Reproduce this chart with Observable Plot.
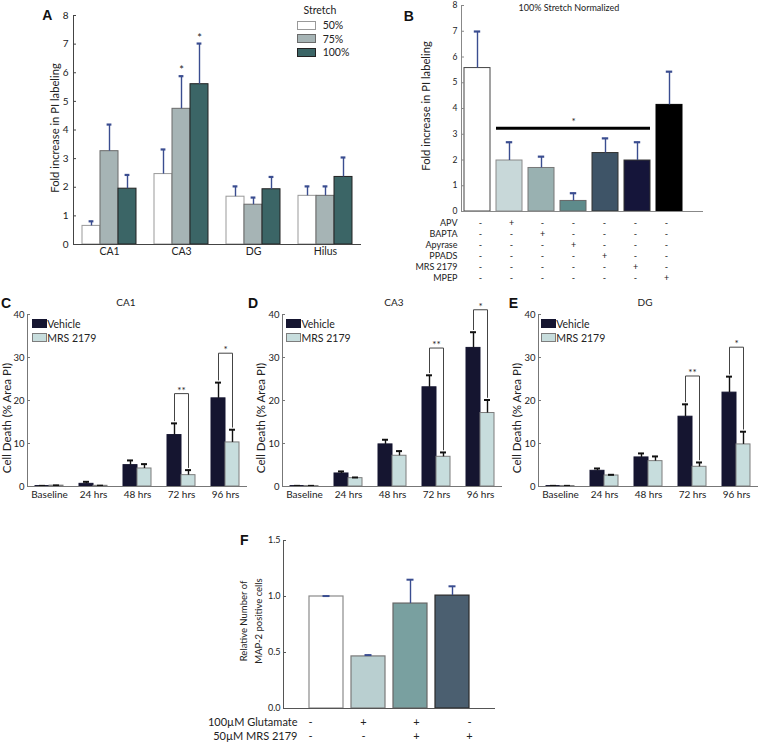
<!DOCTYPE html>
<html><head><meta charset="utf-8">
<script src="https://cdn.jsdelivr.net/npm/d3@7"></script>
<script src="https://cdn.jsdelivr.net/npm/@observablehq/plot@0.6"></script>
<style>
body{margin:0;background:#fff;}
#fig{position:relative;width:760px;height:743px;background:#fff;font-family:Lato,"Open Sans",sans-serif;color:#222;overflow:hidden}
.abs{position:absolute;white-space:nowrap;line-height:1.15}
</style></head><body><div id="fig"></div>
<script>
// ---------- Panel A data ----------
const regionsA = ["CA1", "CA3", "DG", "Hilus"];
const stretchA = ["50%", "75%", "100%"];
const meanA50 = [0.65, 2.46, 1.67, 1.70];
const semA50 = [0.16, 0.86, 0.36, 0.33];
const meanA75 = [3.26, 4.74, 1.39, 1.70];
const semA75 = [0.93, 1.14, 0.25, 0.33];
const meanA100 = [1.95, 5.60, 1.93, 2.36];
const semA100 = [0.48, 1.42, 0.43, 0.68];
const starsA = [["CA3", "75%"], ["CA3", "100%"]];
const ticksA = [0, 1, 2, 3, 4, 5, 6, 7, 8];

// ---------- Panel B data ----------
const conditionsB = ["Control", "APV", "BAPTA", "Apyrase", "PPADS", "MRS 2179", "MPEP"];
const meanB = [5.57, 1.98, 1.69, 0.41, 2.27, 1.98, 4.14];
const semB = [1.42, 0.71, 0.44, 0.30, 0.57, 0.71, 1.29];
const drugRowsB = ["APV", "BAPTA", "Apyrase", "PPADS", "MRS 2179", "MPEP"];
const sigSpanB = ["APV", "MRS 2179"];
const sigLevelB = 3.23;
const sigCenterB = "Apyrase";

// ---------- Panels C-E data ----------
const timepoints = ["Baseline", "24 hrs", "48 hrs", "72 hrs", "96 hrs"];
const treatments = ["Vehicle", "MRS 2179"];
const bracketTimes = ["72 hrs", "96 hrs"];
const bracketLabels = ["**", "*"];
const ticksCE = [0, 10, 20, 30, 40];

const vehMeanCA1 = [0.10, 0.62, 4.97, 11.96, 20.50];
const vehSemCA1 = [0.05, 0.47, 1.09, 2.72, 3.66];
const mrsMeanCA1 = [0.20, 0.16, 4.19, 2.64, 10.25];
const mrsSemCA1 = [0.05, 0.03, 1.01, 1.17, 2.95];
const bracketTopCA1 = [21.6, 31.0];

const vehMeanCA3 = [0.10, 3.03, 9.79, 23.07, 32.23];
const vehSemCA3 = [0.05, 0.47, 1.08, 2.79, 3.65];
const mrsMeanCA3 = [0.10, 1.94, 7.15, 6.91, 17.09];
const mrsSemCA3 = [0.05, 0.16, 1.08, 1.01, 3.03];
const bracketTopCA3 = [32.2, 41.1];

const vehMeanDG = [0.10, 3.65, 6.76, 16.23, 21.83];
const vehSemDG = [0.05, 0.54, 0.93, 2.88, 3.72];
const mrsMeanDG = [0.10, 2.56, 5.90, 4.58, 9.79];
const mrsSemDG = [0.05, 0.16, 1.09, 1.01, 2.95];
const bracketTopDG = [25.7, 32.4];

// ---------- Panel F data ----------
const conditionsF = ["Control", "Glutamate", "Glutamate + MRS 2179", "MRS 2179"];
const meanF = [1.000, 0.465, 0.937, 1.008];
const semF = [0.004, 0.012, 0.213, 0.083];
const rowLabelsF = ["100\u00b5M Glutamate", "50\u00b5M MRS 2179"];
const glutamateSignsF = ["-", "+", "+", "-"];
const mrsSignsF = ["-", "-", "+", "+"];
const ticksF = [0, 0.5, 1, 1.5];

// ---------- helpers ----------
const FONT = "Lato, 'Open Sans', sans-serif";
const ERR_BLUE = "#3a4d90";
const fig = document.getElementById("fig");
function placePlot(svg, left, top, width) {
  const d = document.createElement("div");
  d.className = "abs";
  d.style.left = left + "px"; d.style.top = top + "px"; d.style.width = width + "px";
  d.appendChild(svg);
  fig.appendChild(d);
}
function txt(content, x, y, o = {}) {
  const d = document.createElement("div");
  d.className = "abs";
  d.style.left = x + "px"; d.style.top = y + "px";
  d.style.fontSize = (o.size || 10) + "px";
  d.style.fontFamily = o.family || FONT;
  if (o.weight) d.style.fontWeight = o.weight;
  d.style.color = o.color || "#222";
  if (o.lh) d.style.lineHeight = o.lh;
  d.style.textAlign = "center";
  const tx = o.anchor === "start" ? "0" : o.anchor === "end" ? "-100%" : "-50%";
  d.style.transform = `translate(${tx},-50%)` + (o.rotate ? ` rotate(${o.rotate}deg)` : "");
  d.innerHTML = content;
  fig.appendChild(d);
}
function box(x, y, w, h, fill, stroke) {
  const d = document.createElement("div");
  d.className = "abs";
  Object.assign(d.style, {left: x + "px", top: y + "px", width: w + "px", height: h + "px",
    background: fill, border: `1px solid ${stroke}`, boxSizing: "border-box"});
  fig.appendChild(d);
}
const baseStyle = {background: "transparent", overflow: "visible", fontFamily: FONT, fontSize: "10px", color: "#222"};

// ---------- Panel A ----------
const meansA = [meanA50, meanA75, meanA100], semsA = [semA50, semA75, semA100];
const dataA = stretchA.flatMap((s, j) => regionsA.map((r, i) => ({region: r, stretch: s, mean: meansA[j][i], top: meansA[j][i] + semsA[j][i]})));
const fillA = {"50%": "#ffffff", "75%": "#a6b4b5", "100%": "#3b6566"};
const strokeA = {"50%": "#999999", "75%": "#6a6a6a", "100%": "#222222"};
const plotA = Plot.plot({
  width: 380, height: 262, marginLeft: 71, marginRight: 18, marginTop: 15, marginBottom: 18,
  style: baseStyle,
  fx: {domain: regionsA, padding: 0, axis: null},
  x: {domain: stretchA, paddingInner: 0, paddingOuter: 0.5, axis: null},
  y: {domain: [0, 8], axis: null},
  marks: [
    ...stretchA.map(s => Plot.barY(dataA.filter(d => d.stretch === s), {fx: "region", x: "stretch", y: "mean", fill: fillA[s], stroke: strokeA[s], strokeWidth: 1})),
    Plot.ruleX(dataA, {fx: "region", x: "stretch", y1: "mean", y2: "top", stroke: ERR_BLUE, strokeWidth: 1.4}),
    Plot.tickY(dataA, {fx: "region", x: "stretch", y: "top", stroke: ERR_BLUE, strokeWidth: 2.2, insetLeft: 6.6, insetRight: 6.6}),
    Plot.text(dataA.filter(d => starsA.some(([r, s]) => r === d.region && s === d.stretch)), {fx: "region", x: "stretch", y: "top", text: () => "*", lineAnchor: "bottom", dy: -2, fontSize: 11}),
    Plot.ruleY([0], {stroke: "#444"}),
    Plot.frame({anchor: "left", facetAnchor: "left", stroke: "#444"}),
    Plot.axisY({ticks: ticksA, tickSize: -3, tickPadding: 8, stroke: "#444", fontSize: 10, label: null}),
    Plot.axisFx({anchor: "bottom", tickSize: 0, tickPadding: 3, label: null, fontSize: 10.5})
  ]
});
placePlot(plotA, 0, 0, 380);
txt("A", 47.3, 15.3, {size: 14, weight: "bold", family: "'Liberation Sans', Arial, sans-serif", color: "#111"});
txt("Fold increase in PI labeling", 55.3, 127.5, {size: 11.2, rotate: -90});
txt("Stretch", 320, 10, {size: 10.5});
stretchA.forEach((s, i) => {
  const y = [20.7, 34.3, 47.7][i];
  box(296.7, y, 19.3, 9, fillA[s], strokeA[s]);
  txt(s, 322.7, y + 4.5, {size: 10.5, anchor: "start"});
});

// ---------- Panel B ----------
const fillB = ["#ffffff", "#c8d8d9", "#99b1b1", "#5e8b8b", "#3e5467", "#15153a", "#000000"];
const strokeB = ["#444444", "#8a8a8a", "#777777", "#666666", "#333333", "#333333", "#000000"];
const dataB = conditionsB.map((c, i) => ({cond: c, mean: meanB[i], top: meanB[i] + semB[i]}));
const xB = {domain: conditionsB, range: [81, 304], paddingInner: 0.2, paddingOuter: 0, axis: null};
const plotB = Plot.plot({
  width: 380, height: 215, marginLeft: 81, marginRight: 57, marginTop: 5, marginBottom: 4,
  style: baseStyle,
  x: xB,
  y: {domain: [0, 8], axis: null},
  marks: [
    ...dataB.map((d, i) => Plot.barY([d], {x: "cond", y: "mean", fill: fillB[i], stroke: strokeB[i], strokeWidth: 1})),
    Plot.ruleX(dataB, {x: "cond", y1: "mean", y2: "top", stroke: ERR_BLUE, strokeWidth: 1.4}),
    Plot.tickY(dataB, {x: "cond", y: "top", stroke: ERR_BLUE, strokeWidth: 2.2, insetLeft: 9.8, insetRight: 9.8}),
    Plot.ruleY([sigLevelB], {x1: () => sigSpanB[0], x2: () => sigSpanB[1], stroke: "#000", strokeWidth: 3}),
    Plot.text([sigLevelB], {x: () => sigCenterB, y: d => d, text: () => "*", lineAnchor: "bottom", dy: -3, fontSize: 10}),
    Plot.ruleY([0], {stroke: "#888"}),
    Plot.frame({anchor: "left", stroke: "#888"}),
    Plot.axisY({ticks: ticksA, tickSize: -3, tickPadding: 7, stroke: "#888", fontSize: 8.5, label: null})
  ]
});
placePlot(plotB, 380, 0, 380);
const signDataB = drugRowsB.flatMap(drug => conditionsB.map(c => ({drug, cond: c, sign: c === drug ? "+" : "-"})));
const rowsB = Plot.plot({
  width: 380, height: 71, marginLeft: 81, marginRight: 57, marginTop: 0, marginBottom: 0,
  style: baseStyle,
  x: xB,
  y: {type: "band", domain: drugRowsB, padding: 0, axis: null},
  marks: [
    Plot.text(signDataB, {x: "cond", y: "drug", text: "sign", fontSize: 9, fill: "#222"}),
    Plot.axisY({tickSize: 0, tickPadding: 4, fontSize: 9, label: null})
  ]
});
placePlot(rowsB, 380, 214, 380);
txt("B", 408.7, 16.2, {size: 14, weight: "bold", family: "'Liberation Sans', Arial, sans-serif", color: "#111"});
txt("100% Stretch Normalized", 569, 7.5, {size: 9});
txt("Fold increase in PI labeling", 425.7, 106, {size: 11.2, rotate: -90});

// ---------- Panels C-E ----------
function deathPanel(vehMean, vehSem, mrsMean, mrsSem, bracketTop, width, marginLeft, marginRight) {
  const data = timepoints.flatMap((t, i) => [
    {time: t, trt: "Vehicle", mean: vehMean[i], top: vehMean[i] + vehSem[i]},
    {time: t, trt: "MRS 2179", mean: mrsMean[i], top: mrsMean[i] + mrsSem[i]}
  ]);
  const brackets = bracketTimes.map((t, k) => ({time: t, top: bracketTop[k], label: bracketLabels[k]}));
  const bracketPts = brackets.flatMap(b => {
    const v = data.find(d => d.time === b.time && d.trt === "Vehicle").top;
    const m = data.find(d => d.time === b.time && d.trt === "MRS 2179").top;
    return [
      {time: b.time, trt: "Vehicle", y: v + 0.6},
      {time: b.time, trt: "Vehicle", y: b.top},
      {time: b.time, trt: "MRS 2179", y: b.top},
      {time: b.time, trt: "MRS 2179", y: m + 0.6}
    ];
  });
  return Plot.plot({
    width, height: 205, marginLeft, marginRight, marginTop: 14, marginBottom: 19,
    style: baseStyle,
    fx: {domain: timepoints, padding: 0, axis: null},
    x: {domain: treatments, paddingInner: 0, paddingOuter: 0.49, axis: null},
    y: {domain: [0, 40], axis: null},
    marks: [
      Plot.barY(data.filter(d => d.trt === "Vehicle"), {fx: "time", x: "trt", y: "mean", fill: "#151530", stroke: "#151530", strokeWidth: 1}),
      Plot.barY(data.filter(d => d.trt === "MRS 2179"), {fx: "time", x: "trt", y: "mean", fill: "#c7dddd", stroke: "#7d7d7d", strokeWidth: 1}),
      Plot.ruleX(data, {fx: "time", x: "trt", y1: "mean", y2: "top", stroke: "#111", strokeWidth: 1.4}),
      Plot.tickY(data, {fx: "time", x: "trt", y: "top", stroke: "#111", strokeWidth: 2, insetLeft: 4, insetRight: 4}),
      Plot.line(bracketPts, {fx: "time", x: "trt", y: "y", z: "time", stroke: "#444", strokeWidth: 1}),
      Plot.text(brackets, {fx: "time", y: "top", text: "label", lineAnchor: "bottom", dy: 0, fontSize: 10}),
      Plot.ruleY([0], {stroke: "#777"}),
      Plot.frame({anchor: "left", facetAnchor: "left", stroke: "#777"}),
      Plot.axisY({ticks: ticksCE, tickSize: -3, tickPadding: 6, stroke: "#777", fontSize: 9.5, label: null}),
      Plot.axisFx({anchor: "bottom", tickSize: 0, tickPadding: 4, label: null, fontSize: 10})
    ]
  });
}
placePlot(deathPanel(vehMeanCA1, vehSemCA1, mrsMeanCA1, mrsSemCA1, bracketTopCA1, 250, 25, 2), 0, 300, 250);
placePlot(deathPanel(vehMeanCA3, vehSemCA3, mrsMeanCA3, mrsSemCA3, bracketTopCA3, 256, 31, 3), 250, 300, 256);
placePlot(deathPanel(vehMeanDG, vehSemDG, mrsMeanDG, mrsSemDG, bracketTopDG, 260, 38, 2), 500, 300, 260);

const panelsCE = [
  {letter: "C", lx: 6, title: "CA1", tx: 126, ylx: 7.2, box: 31.7},
  {letter: "D", lx: 253, title: "CA3", tx: 394, ylx: 261.3, box: 286},
  {letter: "E", lx: 513.3, title: "DG", tx: 645, ylx: 516.7, box: 540.7}
];
panelsCE.forEach(p => {
  txt(p.letter, p.lx, 302.5, {size: 14, weight: "bold", family: "'Liberation Sans', Arial, sans-serif", color: "#111"});
  txt(p.title, p.tx, 302.5, {size: 10});
  txt("Cell Death (% Area PI)", p.ylx, 418, {size: 11.5, rotate: -90});
  box(p.box, 319, 15, 9, "#151530", "#151530");
  box(p.box, 333, 15, 9, "#c7dddd", "#7d7d7d");
  txt(treatments[0], p.box + 15.5, 323.5, {size: 10.5, anchor: "start"});
  txt(treatments[1], p.box + 15.5, 337.5, {size: 10.5, anchor: "start"});
});

// ---------- Panel F ----------
const fillF = ["#ffffff", "#b9cfd0", "#79a0a0", "#4b5f70"];
const strokeF = ["#8a8a8a", "#7a7a7a", "#666666", "#2a2a2a"];
const dataF = conditionsF.map((c, i) => ({cond: c, mean: meanF[i], top: meanF[i] + semF[i]}));
const xF = {domain: conditionsF, range: [83, 295], paddingInner: 0.195, paddingOuter: 0.58, axis: null};
const plotF = Plot.plot({
  width: 300, height: 180, marginLeft: 83, marginRight: 5, marginTop: 10, marginBottom: 2,
  style: baseStyle,
  x: xF,
  y: {domain: [0, 1.5], axis: null},
  marks: [
    ...dataF.map((d, i) => Plot.barY([d], {x: "cond", y: "mean", fill: fillF[i], stroke: strokeF[i], strokeWidth: 1.2})),
    Plot.ruleX(dataF, {x: "cond", y1: "mean", y2: "top", stroke: ERR_BLUE, strokeWidth: 1.4}),
    Plot.tickY(dataF, {x: "cond", y: "top", stroke: ERR_BLUE, strokeWidth: 2, insetLeft: 13.5, insetRight: 13.5}),
    Plot.ruleY([0], {stroke: "#555"}),
    Plot.frame({anchor: "left", stroke: "#555"}),
    Plot.axisY({ticks: ticksF, tickSize: -3, tickPadding: 6, stroke: "#555", fontSize: 9, label: null})
  ]
});
placePlot(plotF, 200, 530, 300);
const signDataF = conditionsF.flatMap((c, i) => [
  {row: rowLabelsF[0], cond: c, sign: glutamateSignsF[i]},
  {row: rowLabelsF[1], cond: c, sign: mrsSignsF[i]}
]);
const rowsF = Plot.plot({
  width: 300, height: 29, marginLeft: 100, marginRight: 5, marginTop: 0, marginBottom: 0,
  style: baseStyle,
  x: xF,
  y: {type: "band", domain: rowLabelsF, padding: 0, axis: null},
  marks: [
    Plot.text(signDataF, {x: "cond", y: "row", text: "sign", fontSize: 11, fill: "#222"}),
    Plot.axisY({tickSize: 0, tickPadding: 3, fontSize: 11, label: null})
  ]
});
placePlot(rowsF, 200, 714, 300);
txt("F", 244.2, 540, {size: 14, weight: "bold", family: "'Liberation Sans', Arial, sans-serif", color: "#111"});
txt("Relative Number of<br>MAP-2 positive cells", 250.5, 621, {size: 9.5, rotate: -90, lh: "15px"});
</script></body></html>
